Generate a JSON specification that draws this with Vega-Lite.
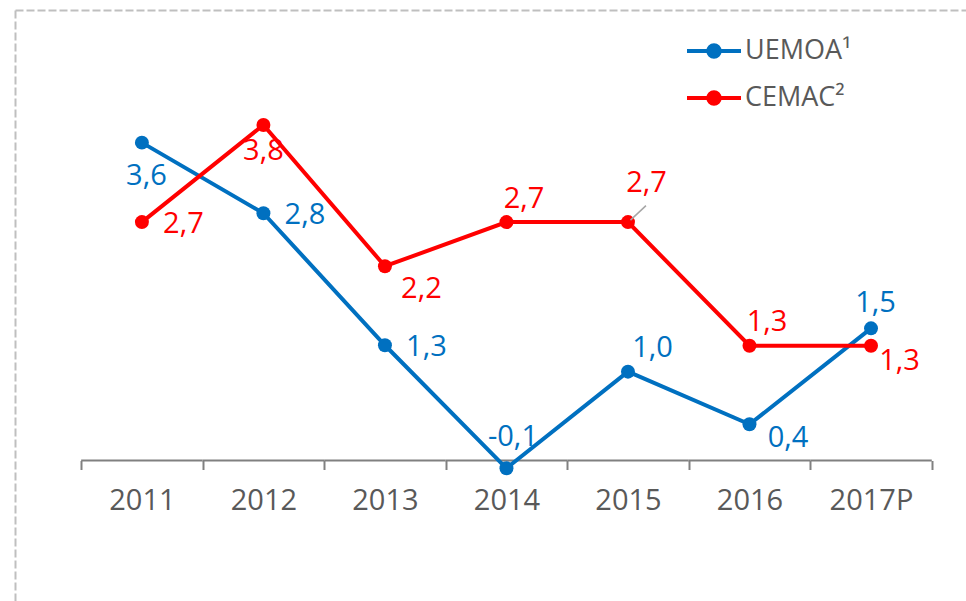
{
  "$schema": "https://vega.github.io/schema/vega-lite/v6.json",
  "width": 951,
  "height": 591,
  "autosize": {"type": "none"},
  "padding": {"left": 15, "top": 10, "right": 0, "bottom": 0},
  "background": "white",
  "title": {
    "text": "(%)", "anchor": "start", "frame": "group", "orient": "top", "offset": 0, "dx": 166, "dy": 20,
    "baseline": "bottom", "font": "Open Sans", "fontSize": 29, "fontWeight": "bold", "color": "#F4826E"
  },
  "config": {
    "view": {"stroke": null},
    "locale": {"number": {"decimal": ",", "thousands": "\u00a0", "grouping": [3], "currency": ["", " €"], "minus": "-"}},
    "font": "Open Sans"
  },
  "data": {
    "values": [
      {"year": "2011", "series": "UEMOA", "value": 3.6},
      {"year": "2012", "series": "UEMOA", "value": 2.8},
      {"year": "2013", "series": "UEMOA", "value": 1.305},
      {"year": "2014", "series": "UEMOA", "value": -0.088},
      {"year": "2015", "series": "UEMOA", "value": 1.006},
      {"year": "2016", "series": "UEMOA", "value": 0.41},
      {"year": "2017P", "series": "UEMOA", "value": 1.497},
      {"year": "2011", "series": "CEMAC", "value": 2.7},
      {"year": "2012", "series": "CEMAC", "value": 3.8},
      {"year": "2013", "series": "CEMAC", "value": 2.2},
      {"year": "2014", "series": "CEMAC", "value": 2.7},
      {"year": "2015", "series": "CEMAC", "value": 2.7},
      {"year": "2016", "series": "CEMAC", "value": 1.3},
      {"year": "2017P", "series": "CEMAC", "value": 1.3}
    ]
  },
  "encoding": {
    "x": {
      "field": "year", "type": "nominal", "sort": null,
      "scale": {"type": "band", "paddingInner": 0, "paddingOuter": 0.413, "align": 0.659},
      "axis": {
        "title": null, "domain": false, "grid": false, "orient": "bottom", "offset": -140.5,
        "ticks": true, "tickBand": "extent", "tickSize": 9, "tickColor": "#808080", "tickWidth": 2,
        "labelFont": "Open Sans", "labelFontSize": 29, "labelColor": "#595959", "labelPadding": 17, "labelAngle": 0
      }
    },
    "y": {
      "field": "value", "type": "quantitative",
      "scale": {"domain": [-1.591, 5.102], "nice": false, "zero": false},
      "axis": {
        "title": null, "labels": false, "ticks": false,
        "domain": true, "domainColor": "#BFBFBF", "domainWidth": 2, "domainDash": [8, 3],
        "grid": true, "values": [5.102], "gridColor": "#BFBFBF", "gridWidth": 2, "gridDash": [8, 3]
      }
    }
  },
  "layer": [
    {
      "transform": [{"filter": "datum.series==='UEMOA'"}],
      "mark": {"type": "bar", "color": "#808080"},
      "encoding": {
        "y": {"datum": 0.0113},
        "y2": {"datum": -0.0113}
      }
    },
    {
      "mark": {"type": "line", "strokeWidth": 4},
      "encoding": {
        "color": {
          "field": "series", "type": "nominal",
          "scale": {"domain": ["UEMOA", "CEMAC"], "range": ["#0070C0", "#FF0000"]},
          "legend": {
            "orient": "none", "legendX": 682, "legendY": 24, "title": null, "padding": 0,
            "symbolType": "M-1.8,0H1.8M0.38,0A0.38,0.38,0,1,1,-0.38,0A0.38,0.38,0,1,1,0.38,0",
            "symbolSize": 900, "symbolStrokeWidth": 4,
            "labelFont": "Open Sans", "labelFontSize": 27, "labelColor": "#595959", "labelOffset": 14,
            "rowPadding": 16,
            "labelExpr": "datum.label === 'UEMOA' ? 'UEMOA¹' : 'CEMAC²'",
            "encode": {"symbols": {"update": {"fill": {"scale": "color", "field": "value"}, "stroke": {"scale": "color", "field": "value"}, "opacity": {"value": 1}}}}
          }
        },
        "detail": {"field": "series"}
      }
    },
    {
      "mark": {"type": "point", "filled": true, "opacity": 1, "size": 195},
      "encoding": {
        "color": {"field": "series", "type": "nominal"}
      }
    },
    {
      "transform": [{"filter": "datum.series==='CEMAC' && datum.year==='2015'"}],
      "mark": {"type": "rule", "color": "#A6A6A6", "strokeWidth": 1.5, "xOffset": 2.5, "yOffset": -2, "x2Offset": 18, "y2Offset": -16.5},
      "encoding": {
        "x2": {"field": "year"},
        "y2": {"field": "value"}
      }
    },
    {
      "transform": [{"filter": "(datum.series==='UEMOA' && (datum.year==='2012' || datum.year==='2013')) || (datum.series==='CEMAC' && datum.year==='2011')"}],
      "mark": {"type": "text", "font": "Open Sans", "fontSize": 29, "align": "center", "baseline": "middle", "dx": 41.5, "dy": 1.5},
      "encoding": {"text": {"field": "value", "format": ".1f"}, "color": {"condition": {"test": "datum.series==='UEMOA'", "value": "#0070C0"}, "value": "#FF0000"}}
    },
    {
      "transform": [{"filter": "datum.series==='CEMAC' && (datum.year==='2014' || datum.year==='2016')"}],
      "mark": {"type": "text", "font": "Open Sans", "fontSize": 29, "align": "center", "baseline": "middle", "dx": 17.5, "dy": -23.5},
      "encoding": {"text": {"field": "value", "format": ".1f"}, "color": {"value": "#FF0000"}}
    },
    {
      "transform": [{"filter": "datum.series==='UEMOA' && datum.year==='2011'"}],
      "mark": {"type": "text", "font": "Open Sans", "fontSize": 29, "align": "center", "baseline": "middle", "dx": 4.5, "dy": 33},
      "encoding": {"text": {"field": "value", "format": ".1f"}, "color": {"value": "#0070C0"}}
    },
    {
      "transform": [{"filter": "datum.series==='UEMOA' && datum.year==='2014'"}],
      "mark": {"type": "text", "font": "Open Sans", "fontSize": 29, "align": "center", "baseline": "middle", "dx": 6.5, "dy": -31},
      "encoding": {"text": {"field": "value", "format": ".1f"}, "color": {"value": "#0070C0"}}
    },
    {
      "transform": [{"filter": "datum.series==='UEMOA' && datum.year==='2015'"}],
      "mark": {"type": "text", "font": "Open Sans", "fontSize": 29, "align": "center", "baseline": "middle", "dx": 24.5, "dy": -23.5},
      "encoding": {"text": {"field": "value", "format": ".1f"}, "color": {"value": "#0070C0"}}
    },
    {
      "transform": [{"filter": "datum.series==='UEMOA' && datum.year==='2016'"}],
      "mark": {"type": "text", "font": "Open Sans", "fontSize": 29, "align": "center", "baseline": "middle", "dx": 38.5, "dy": 14},
      "encoding": {"text": {"field": "value", "format": ".1f"}, "color": {"value": "#0070C0"}}
    },
    {
      "transform": [{"filter": "datum.series==='UEMOA' && datum.year==='2017P'"}],
      "mark": {"type": "text", "font": "Open Sans", "fontSize": 29, "align": "center", "baseline": "middle", "dx": 4.5, "dy": -25.5},
      "encoding": {"text": {"field": "value", "format": ".1f"}, "color": {"value": "#0070C0"}}
    },
    {
      "transform": [{"filter": "datum.series==='CEMAC' && datum.year==='2012'"}],
      "mark": {"type": "text", "font": "Open Sans", "fontSize": 29, "align": "center", "baseline": "middle", "dx": 0, "dy": 26.5},
      "encoding": {"text": {"field": "value", "format": ".1f"}, "color": {"value": "#FF0000"}}
    },
    {
      "transform": [{"filter": "datum.series==='CEMAC' && datum.year==='2013'"}],
      "mark": {"type": "text", "font": "Open Sans", "fontSize": 29, "align": "center", "baseline": "middle", "dx": 36.5, "dy": 22.5},
      "encoding": {"text": {"field": "value", "format": ".1f"}, "color": {"value": "#FF0000"}}
    },
    {
      "transform": [{"filter": "datum.series==='CEMAC' && datum.year==='2015'"}],
      "mark": {"type": "text", "font": "Open Sans", "fontSize": 29, "align": "center", "baseline": "middle", "dx": 18.5, "dy": -39},
      "encoding": {"text": {"field": "value", "format": ".1f"}, "color": {"value": "#FF0000"}}
    },
    {
      "transform": [{"filter": "datum.series==='CEMAC' && datum.year==='2017P'"}],
      "mark": {"type": "text", "font": "Open Sans", "fontSize": 29, "align": "center", "baseline": "middle", "dx": 28.5, "dy": 15.5},
      "encoding": {"text": {"field": "value", "format": ".1f"}, "color": {"value": "#FF0000"}}
    }
  ]
}
